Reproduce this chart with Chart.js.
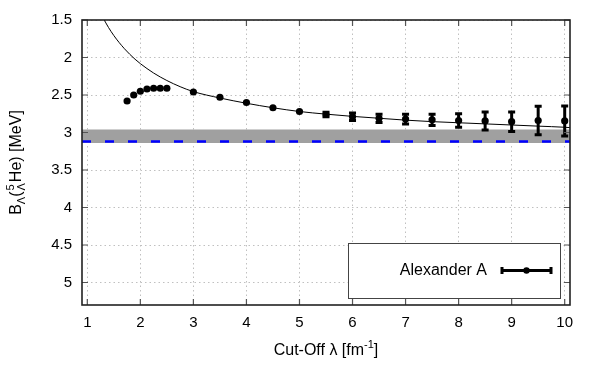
<!DOCTYPE html>
<html>
<head>
<meta charset="utf-8">
<script src="https://cdn.jsdelivr.net/npm/chart.js@4/dist/chart.umd.min.js"></script>
<style>
  html, body { margin: 0; padding: 0; background: #fff; }
  #wrap { width: 600px; height: 375px; }
</style>
</head>
<body>
<div id="wrap"><canvas id="c" width="600" height="375"></canvas></div>
<script>
// ---- data ----
const xTickValues = [1, 2, 3, 4, 5, 6, 7, 8, 9, 10];
const xTickLabels = ['1', '2', '3', '4', '5', '6', '7', '8', '9', '10'];
const yTickValues = [1.5, 2, 2.5, 3, 3.5, 4, 4.5, 5];
const yTickLabels = ['1.5', '2', '2.5', '3', '3.5', '4', '4.5', '5'];

const cutoff    = [1.75, 1.875, 2.0, 2.125, 2.25, 2.375, 2.5, 3.0, 3.5, 4.0, 4.5, 5.0, 5.5, 6.0, 6.5, 7.0, 7.5, 8.0, 8.5, 9.0, 9.5, 10.0];
const energy    = [2.58, 2.50, 2.45, 2.42, 2.41, 2.41, 2.41, 2.46, 2.53, 2.60, 2.67, 2.72, 2.76, 2.79, 2.81, 2.82, 2.83, 2.84, 2.845, 2.855, 2.84, 2.845];
const energyErr = [0, 0, 0, 0, 0, 0, 0, 0, 0, 0, 0, 0, 0.03, 0.05, 0.055, 0.065, 0.075, 0.09, 0.12, 0.13, 0.19, 0.2];

const fitCutoff = [1.3, 1.4, 1.5, 1.6, 1.7, 1.8, 1.9, 2.0, 2.25, 2.5, 2.75, 3.0, 3.5, 4.0, 4.5, 5.0, 5.5, 6.0, 6.5, 7.0, 7.5, 8.0, 8.5, 9.0, 9.5, 10.0, 10.1];
const fitEnergy = [1.476, 1.60, 1.707, 1.80, 1.883, 1.957, 2.023, 2.082, 2.207, 2.307, 2.389, 2.455, 2.54, 2.61, 2.67, 2.72, 2.755, 2.785, 2.81, 2.835, 2.855, 2.87, 2.885, 2.90, 2.915, 2.93, 2.935];

const bandRange = [2.96, 3.14];   // grey band
const expValue  = 3.12;           // blue dashed line
const xRange = [0.9, 10.1];
const yRange = [1.5, 5.3];
const seriesName = 'Alexander A';

// ---- chart ----
Chart.defaults.font.family = '"Liberation Sans", Arial, sans-serif';
Chart.defaults.font.size = 15;
Chart.defaults.color = '#000';

const pts = cutoff.map((c, i) => ({ x: c, y: energy[i] }));
const fit = fitCutoff.map((c, i) => ({ x: c, y: fitEnergy[i] }));

const deco = {
  id: 'deco',
  afterDatasetsDraw(chart) {
    const { ctx, chartArea: a, scales: { x, y } } = chart;
    ctx.save();
    // error bars
    ctx.strokeStyle = '#000';
    ctx.lineWidth = 3;
    cutoff.forEach((c, i) => {
      const e = energyErr[i];
      if (!e) return;
      const px = x.getPixelForValue(c);
      const y1 = y.getPixelForValue(energy[i] - e);
      const y2 = y.getPixelForValue(energy[i] + e);
      ctx.beginPath();
      ctx.moveTo(px, y1); ctx.lineTo(px, y2);
      ctx.moveTo(px - 3.5, y1); ctx.lineTo(px + 3.5, y1);
      ctx.moveTo(px - 3.5, y2); ctx.lineTo(px + 3.5, y2);
      ctx.stroke();
    });
    // inward ticks on all sides
    ctx.strokeStyle = '#555';
    ctx.lineWidth = 1.2;
    const tl = 6;
    ctx.beginPath();
    xTickValues.forEach(v => {
      const px = x.getPixelForValue(v);
      ctx.moveTo(px, a.bottom); ctx.lineTo(px, a.bottom - tl);
      ctx.moveTo(px, a.top); ctx.lineTo(px, a.top + tl);
    });
    yTickValues.forEach(v => {
      const py = y.getPixelForValue(v);
      ctx.moveTo(a.left, py); ctx.lineTo(a.left + tl, py);
      ctx.moveTo(a.right, py); ctx.lineTo(a.right - tl, py);
    });
    ctx.stroke();
    // frame
    ctx.strokeStyle = '#222';
    ctx.lineWidth = 1.6;
    ctx.strokeRect(a.left, a.top, a.width, a.height);

    // legend box
    const lbR = a.right - 10, lbB = a.bottom - 7, lbW = 212, lbH = 55;
    ctx.fillStyle = '#fff';
    ctx.fillRect(lbR - lbW, lbB - lbH, lbW, lbH);
    ctx.strokeStyle = '#444';
    ctx.lineWidth = 1;
    ctx.strokeRect(lbR - lbW + 0.5, lbB - lbH + 0.5, lbW, lbH);
    const ly = lbB - lbH / 2;
    ctx.fillStyle = '#000';
    ctx.font = '16px "Liberation Sans", Arial, sans-serif';
    ctx.textAlign = 'right';
    ctx.textBaseline = 'middle';
    ctx.fillText(seriesName, lbR - 73, ly);
    const sx1 = lbR - 58, sx2 = lbR - 9;
    ctx.strokeStyle = '#000';
    ctx.lineWidth = 3;
    ctx.beginPath();
    ctx.moveTo(sx1, ly); ctx.lineTo(sx2, ly);
    ctx.moveTo(sx1, ly - 3.5); ctx.lineTo(sx1, ly + 3.5);
    ctx.moveTo(sx2, ly - 3.5); ctx.lineTo(sx2, ly + 3.5);
    ctx.stroke();
    ctx.beginPath();
    ctx.arc((sx1 + sx2) / 2, ly, 3.2, 0, Math.PI * 2);
    ctx.fill();

    // axis titles
    const big = '16px "Liberation Sans", Arial, sans-serif';
    const small = '11px "Liberation Sans", Arial, sans-serif';
    function runsWidth(runs) {
      let w = 0;
      runs.forEach(r => {
        if (r.stack) {
          ctx.font = small;
          w += Math.max(...r.stack.map(s => ctx.measureText(s.t).width)) + (r.gap || 0);
        } else {
          ctx.font = r.small ? small : big;
          w += ctx.measureText(r.t).width;
        }
      });
      return w;
    }
    function drawRuns(runs, cx, base) {
      ctx.textAlign = 'left';
      ctx.textBaseline = 'alphabetic';
      let xx = cx - runsWidth(runs) / 2;
      runs.forEach(r => {
        if (r.stack) {
          ctx.font = small;
          let mw = 0;
          r.stack.forEach(s => {
            ctx.fillText(s.t, xx + (r.gap || 0) / 2, base + s.dy);
            mw = Math.max(mw, ctx.measureText(s.t).width);
          });
          xx += mw + (r.gap || 0);
        } else {
          ctx.font = r.small ? small : big;
          ctx.fillText(r.t, xx, base + (r.dy || 0));
          xx += ctx.measureText(r.t).width;
        }
      });
    }
    ctx.fillStyle = '#000';
    // x title
    drawRuns([
      { t: 'Cut-Off λ [fm' },
      { t: '-1', small: true, dy: -7 },
      { t: ']' }
    ], (a.left + a.right) / 2, 355);
    // y title (rotated)
    ctx.save();
    ctx.translate(21, (a.top + a.bottom) / 2);
    ctx.rotate(-Math.PI / 2);
    drawRuns([
      { t: 'B' },
      { t: 'Λ', small: true, dy: 4 },
      { t: '(' },
      { stack: [{ t: 'Λ', dy: 4 }, { t: '5', dy: -7 }], gap: 2 },
      { t: 'He) [MeV]' }
    ], 0, 0);
    ctx.restore();
    ctx.restore();
  }
};

new Chart(document.getElementById('c'), {
  type: 'scatter',
  data: {
    datasets: [
      {
        type: 'line', order: 6,
        data: [{ x: xRange[0], y: bandRange[0] }, { x: xRange[1], y: bandRange[0] }],
        borderWidth: 0, pointRadius: 0, fill: false
      },
      {
        type: 'line', order: 5,
        data: [{ x: xRange[0], y: bandRange[1] }, { x: xRange[1], y: bandRange[1] }],
        borderWidth: 0, pointRadius: 0, fill: '-1', backgroundColor: '#a0a0a0'
      },
      {
        type: 'line', order: 4,
        data: [{ x: xRange[0], y: expValue }, { x: xRange[1], y: expValue }],
        borderColor: '#0000ff', borderWidth: 2.5, borderDash: [9, 14], pointRadius: 0, fill: false
      },
      {
        type: 'line', order: 3,
        data: fit,
        borderColor: '#000', borderWidth: 1, pointRadius: 0, fill: false,
        cubicInterpolationMode: 'monotone'
      },
      {
        order: 1,
        data: pts,
        backgroundColor: '#000', borderColor: '#000', pointRadius: 3.6, pointBorderWidth: 0
      }
    ]
  },
  options: {
    responsive: false,
    animation: false,
    events: [],
    layout: { padding: { left: 0, top: 20, right: 30, bottom: 0 } },
    plugins: { legend: { display: false }, tooltip: { enabled: false } },
    scales: {
      x: {
        type: 'linear',
        min: xRange[0], max: xRange[1],
        afterBuildTicks: s => { s.ticks = xTickValues.map(v => ({ value: v })); },
        afterFit: s => { s.height = 70; },
        ticks: { padding: 9, callback: (v, i) => xTickLabels[i], font: { size: 15 } },
        grid: { color: '#c0c0c0', lineWidth: 1, drawTicks: false },
        border: { display: false, dash: [1.5, 3] }
      },
      y: {
        type: 'linear',
        reverse: true,
        min: yRange[0], max: yRange[1],
        afterBuildTicks: s => { s.ticks = yTickValues.map(v => ({ value: v })); },
        afterFit: s => { s.width = 82; },
        ticks: { padding: 10, callback: (v, i) => yTickLabels[i], font: { size: 15 } },
        grid: { color: '#c0c0c0', lineWidth: 1, drawTicks: false },
        border: { display: false, dash: [1.5, 3] }
      }
    }
  },
  plugins: [deco]
});
</script>
</body>
</html>
